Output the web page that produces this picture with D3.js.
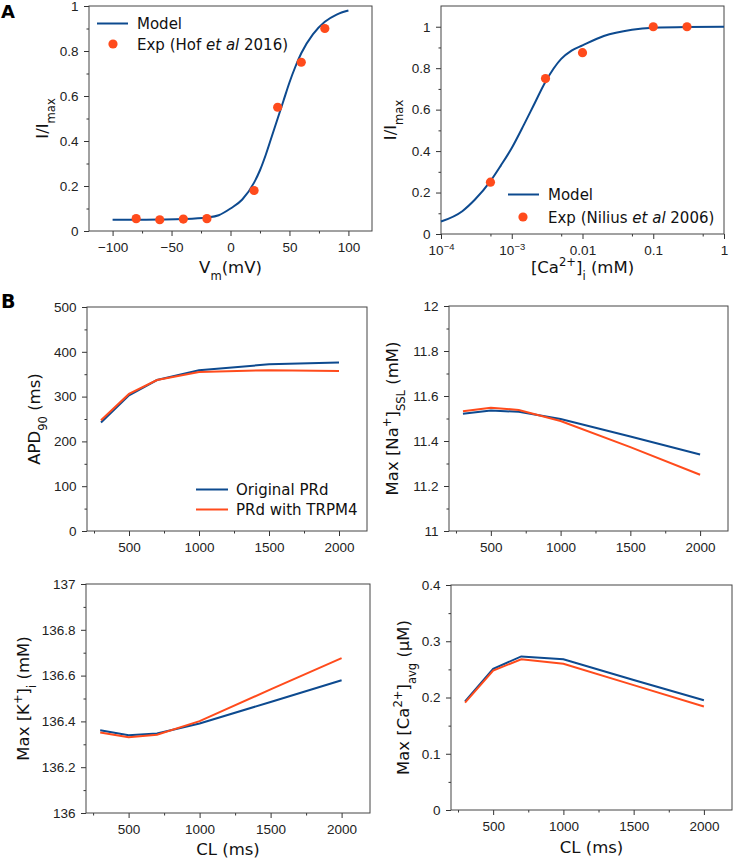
<!DOCTYPE html>
<html>
<head>
<meta charset="utf-8">
<script src="https://cdn.jsdelivr.net/npm/d3@7"></script>
<style>
  body { margin: 0; background: #fff; }
  svg { font-family: 'DejaVu Sans', sans-serif; }
  .tick text { font-size: 13.5px; fill: #222; }
  .tick line { stroke: #333; }
  .axis-label { font-size: 16.5px; fill: #111; }
  .legend { font-size: 15px; fill: #111; }
</style>
</head>
<body>
<svg width="733" height="858"></svg>
<script>
// panel A, left: voltage dependence
const vmModelX = [-100, -80, -60, -40, -20, -10, 0, 10, 20, 25, 30, 35, 40, 45, 50, 55, 60, 70, 80, 90, 100];
const vmModelY = [0.05, 0.05, 0.051, 0.053, 0.06, 0.07, 0.10, 0.14, 0.215, 0.27, 0.34, 0.42, 0.50, 0.58, 0.66, 0.73, 0.79, 0.875, 0.93, 0.962, 0.98];
const vmExpX = [-80, -60, -40, -20, 20, 40, 60, 80];
const vmExpY = [0.055, 0.05, 0.053, 0.055, 0.18, 0.55, 0.75, 0.9];
const vmTicks = [-100, -50, 0, 50, 100];

// panel A, right: calcium dependence
const caModelX = [1e-4, 2e-4, 3e-4, 5e-4, 7e-4, 1e-3, 1.5e-3, 2e-3, 3e-3, 5e-3, 7e-3, 0.01, 0.02, 0.05, 0.1, 0.3, 1];
const caModelY = [0.06, 0.11, 0.165, 0.255, 0.33, 0.415, 0.53, 0.615, 0.735, 0.845, 0.885, 0.91, 0.955, 0.985, 0.995, 0.999, 1.0];
const caExpX = [5e-4, 3e-3, 0.01, 0.1, 0.3];
const caExpY = [0.25, 0.75, 0.875, 1.0, 1.0];
const caTicks = [1e-4, 1e-3, 0.01, 0.1, 1];
const caTickLabels = [['10', '\u22124'], ['10', '\u22123'], ['0.01'], ['0.1'], ['1']];

// panel B: rate dependence
const cl = [300, 500, 700, 1000, 1500, 2000];
const apdOrig = [242, 303, 337, 359, 372, 376];
const apdTrpm = [247, 306, 337, 355, 359, 357];
const naOrig = [11.521, 11.535, 11.530, 11.498, 11.42, 11.34];
const naTrpm = [11.532, 11.548, 11.538, 11.489, 11.373, 11.25];
const kOrig = [136.361, 136.340, 136.347, 136.391, 136.485, 136.580];
const kTrpm = [136.352, 136.331, 136.342, 136.401, 136.540, 136.676];
const caOrig = [0.193, 0.251, 0.273, 0.268, 0.231, 0.195];
const caTrpm = [0.191, 0.248, 0.268, 0.260, 0.222, 0.184];
const clTicks = [500, 1000, 1500, 2000];
const clMinor = [250, 750, 1250, 1750];

const blue = '#0d4a8f';
const orange = '#ff4b1c';

const svg = d3.select('svg');

// text with sub/superscript parts: [text, 'sub'|'sup'|'it'|undefined]
function rich(sel, parts) {
  parts.forEach(p => {
    const t = sel.append('tspan').text(p[0]);
    if (p[1] === 'sub') t.attr('baseline-shift', 'sub').style('font-size', '70%');
    if (p[1] === 'sup') t.attr('baseline-shift', 'super').style('font-size', '70%');
    if (p[1] === 'it') t.style('font-style', 'italic');
  });
  return sel;
}

function panel(o) {
  const g = svg.append('g');
  const x = o.x.range([o.x0, o.x1]);
  const y = o.y.range([o.y1, o.y0]);

  const xAxisG = g.append('g').attr('transform', `translate(0,${o.y1})`)
    .call(d3.axisBottom(x).tickValues(o.xTicks).tickFormat(o.xFmt || (d => d))
      .tickSize(5).tickSizeOuter(0).tickPadding(6));
  g.append('g').attr('transform', `translate(0,${o.y1})`)
    .call(d3.axisBottom(x).tickValues(o.xMinor).tickFormat('').tickSize(2.5).tickSizeOuter(0));
  g.append('g').attr('transform', `translate(${o.x0},0)`)
    .call(d3.axisLeft(y).tickValues(o.yTicks).tickFormat(o.yFmt)
      .tickSize(5).tickSizeOuter(0).tickPadding(5.5));
  g.append('g').attr('transform', `translate(${o.x0},0)`)
    .call(d3.axisLeft(y).tickValues(o.yMinor).tickFormat('').tickSize(2.5).tickSizeOuter(0));
  g.selectAll('.domain').remove();

  g.append('rect')
    .attr('x', o.x0).attr('y', o.y0)
    .attr('width', o.x1 - o.x0).attr('height', o.y1 - o.y0)
    .attr('fill', 'none').attr('stroke', '#444').attr('stroke-width', 1);

  rich(g.append('text').attr('class', 'axis-label')
    .attr('x', (o.x0 + o.x1) / 2).attr('y', o.xLabelY)
    .attr('text-anchor', 'middle'), o.xLabel || []);

  const cy = (o.y0 + o.y1) / 2;
  rich(g.append('text').attr('class', 'axis-label')
    .attr('transform', `translate(${o.yLabelX},${cy}) rotate(-90)`)
    .attr('text-anchor', 'middle'), o.yLabel);

  return { g, x, y, xAxisG };
}

const fmt1 = d => (d === 0 ? '0' : d === 1 ? '1' : d.toFixed(1));

// ---------- A left ----------
const pA1 = panel({
  x: d3.scaleLinear().domain([-120, 120]), x0: 89, x1: 372,
  y: d3.scaleLinear().domain([0, 1]), y0: 6, y1: 231,
  xTicks: vmTicks, xMinor: [-75, -25, 25, 75],
  xFmt: d => String(d).replace('-', '\u2212'),
  yTicks: [0, 0.2, 0.4, 0.6, 0.8, 1], yMinor: [0.1, 0.3, 0.5, 0.7, 0.9], yFmt: fmt1,
  xLabel: [['V'], ['m', 'sub'], ['(mV)']], xLabelY: 273,
  yLabel: [['I/I'], ['max', 'sub']], yLabelX: 48
});
const lineA1 = d3.line().x(d => pA1.x(d[0])).y(d => pA1.y(d[1])).curve(d3.curveMonotoneX);
pA1.g.append('path').attr('d', lineA1(d3.zip(vmModelX, vmModelY)))
  .attr('fill', 'none').attr('stroke', blue).attr('stroke-width', 2);
pA1.g.selectAll('.dot').data(d3.zip(vmExpX, vmExpY)).join('circle')
  .attr('cx', d => pA1.x(d[0])).attr('cy', d => pA1.y(d[1])).attr('r', 4.6).attr('fill', orange);

// legend A left
pA1.g.append('line').attr('x1', 97).attr('x2', 128).attr('y1', 23.5).attr('y2', 23.5)
  .attr('stroke', blue).attr('stroke-width', 2);
pA1.g.append('text').attr('class', 'legend').attr('x', 137).attr('y', 29).text('Model');
pA1.g.append('circle').attr('cx', 113).attr('cy', 44).attr('r', 4.6).attr('fill', orange);
rich(pA1.g.append('text').attr('class', 'legend').attr('x', 137).attr('y', 49.5),
  [['Exp (Hof '], ['et al', 'it'], [' 2016)']]);

// ---------- A right ----------
const pA2 = panel({
  x: d3.scaleLog().domain([1e-4, 1]), x0: 441, x1: 724,
  y: d3.scaleLinear().domain([0, 1.1]), y0: 6, y1: 234,
  xTicks: caTicks, xMinor: [5e-4, 5e-3, 0.05, 0.5],
  xFmt: () => '',
  yTicks: [0, 0.2, 0.4, 0.6, 0.8, 1], yMinor: [0.1, 0.3, 0.5, 0.7, 0.9], yFmt: fmt1,
  xLabel: [['[Ca'], ['2+', 'sup'], [']'], ['i', 'sub'], [' (mM)']], xLabelY: 273,
  yLabel: [['I/I'], ['max', 'sub']], yLabelX: 396
});
pA2.xAxisG.selectAll('.tick text').each(function (d, i) {
  rich(d3.select(this), [[caTickLabels[i][0]]].concat(caTickLabels[i][1] ? [[caTickLabels[i][1], 'sup']] : []));
});
const lineA2 = d3.line().x(d => pA2.x(d[0])).y(d => pA2.y(d[1])).curve(d3.curveMonotoneX);
pA2.g.append('path').attr('d', lineA2(d3.zip(caModelX, caModelY)))
  .attr('fill', 'none').attr('stroke', blue).attr('stroke-width', 2);
pA2.g.selectAll('.dot').data(d3.zip(caExpX, caExpY)).join('circle')
  .attr('cx', d => pA2.x(d[0])).attr('cy', d => pA2.y(d[1])).attr('r', 4.6).attr('fill', orange);

pA2.g.append('line').attr('x1', 508).attr('x2', 539).attr('y1', 194.5).attr('y2', 194.5)
  .attr('stroke', blue).attr('stroke-width', 2);
pA2.g.append('text').attr('class', 'legend').attr('x', 548).attr('y', 200).text('Model');
pA2.g.append('circle').attr('cx', 523).attr('cy', 217).attr('r', 4.6).attr('fill', orange);
rich(pA2.g.append('text').attr('class', 'legend').attr('x', 548).attr('y', 222.5),
  [['Exp (Nilius '], ['et al', 'it'], [' 2006)']]);

// ---------- B panels ----------
function bPanel(o, orig, trpm) {
  const p = panel(Object.assign({
    x: d3.scaleLinear().domain([200, 2200]),
    xTicks: clTicks, xMinor: clMinor
  }, o));
  const line = d3.line().x(d => p.x(d[0])).y(d => p.y(d[1]));
  p.g.append('path').attr('d', line(d3.zip(cl, orig)))
    .attr('fill', 'none').attr('stroke', blue).attr('stroke-width', 2);
  p.g.append('path').attr('d', line(d3.zip(cl, trpm)))
    .attr('fill', 'none').attr('stroke', orange).attr('stroke-width', 2);
  return p;
}

const pB1 = bPanel({
  x0: 87, x1: 367, y: d3.scaleLinear().domain([0, 500]), y0: 307, y1: 531,
  yTicks: [0, 100, 200, 300, 400, 500], yMinor: [50, 150, 250, 350, 450], yFmt: d => d,
  yLabel: [['APD'], ['90', 'sub'], [' (ms)']], yLabelX: 40
}, apdOrig, apdTrpm);
pB1.g.append('line').attr('x1', 196).attr('x2', 228).attr('y1', 489.5).attr('y2', 489.5)
  .attr('stroke', blue).attr('stroke-width', 2);
pB1.g.append('text').attr('class', 'legend').attr('x', 236).attr('y', 495).text('Original PRd');
pB1.g.append('line').attr('x1', 196).attr('x2', 228).attr('y1', 509.5).attr('y2', 509.5)
  .attr('stroke', orange).attr('stroke-width', 2);
pB1.g.append('text').attr('class', 'legend').attr('x', 236).attr('y', 515).text('PRd with TRPM4');

bPanel({
  x0: 449, x1: 728, y: d3.scaleLinear().domain([11, 12]), y0: 306, y1: 531,
  yTicks: [11, 11.2, 11.4, 11.6, 11.8, 12], yMinor: [11.1, 11.3, 11.5, 11.7, 11.9],
  yFmt: d => (Number.isInteger(d) ? String(d) : d.toFixed(1)),
  yLabel: [['Max [Na'], ['+', 'sup'], [']'], ['SSL', 'sub'], [' (mM)']], yLabelX: 398
}, naOrig, naTrpm);

bPanel({
  x0: 86, x1: 370, y: d3.scaleLinear().domain([136, 137]), y0: 584, y1: 813,
  yTicks: [136, 136.2, 136.4, 136.6, 136.8, 137], yMinor: [136.1, 136.3, 136.5, 136.7, 136.9],
  yFmt: d => (Math.abs(d - Math.round(d)) < 1e-9 ? String(Math.round(d)) : d.toFixed(1)),
  xLabel: [['CL (ms)']], xLabelY: 855,
  yLabel: [['Max [K'], ['+', 'sup'], [']'], ['i', 'sub'], [' (mM)']], yLabelX: 29
}, kOrig, kTrpm);

bPanel({
  x0: 451, x1: 732, y: d3.scaleLinear().domain([0, 0.4]), y0: 585, y1: 810,
  yTicks: [0, 0.1, 0.2, 0.3, 0.4], yMinor: [0.05, 0.15, 0.25, 0.35], yFmt: d => (d === 0 ? '0' : d.toFixed(1)),
  xLabel: [['CL (ms)']], xLabelY: 853,
  yLabel: [['Max [Ca'], ['2+', 'sup'], [']'], ['avg', 'sub'], [' (\u00b5M)']], yLabelX: 409
}, caOrig, caTrpm);

// panel letters
svg.append('text').attr('x', 1).attr('y', 18).style('font-size', '18px').style('font-weight', 'bold').text('A');
svg.append('text').attr('x', 1).attr('y', 308).style('font-size', '19px').style('font-weight', 'bold').text('B');
</script>
</body>
</html>
